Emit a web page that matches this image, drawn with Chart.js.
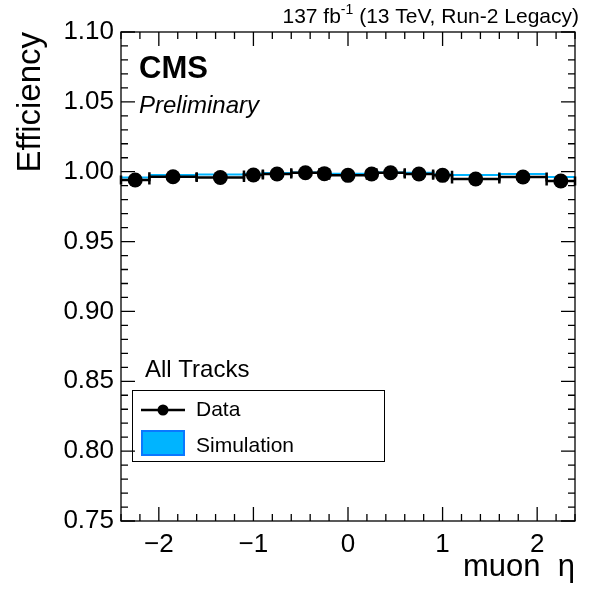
<!DOCTYPE html>
<html>
<head>
<meta charset="utf-8">
<script src="https://cdn.jsdelivr.net/npm/chart.js@4.4.1/dist/chart.umd.min.js"></script>
<style>
  html, body { margin: 0; padding: 0; background: #fff; }
  #wrap { width: 600px; height: 600px; }
</style>
</head>
<body>
<div id="wrap"><canvas id="effChart" width="600" height="600"></canvas></div>
<script>
// Muon eta binning and measured efficiencies
const binEdges   = [-2.4, -2.1, -1.6, -1.1, -0.9, -0.6, -0.3, -0.2, 0.2, 0.3, 0.6, 0.9, 1.1, 1.6, 2.1, 2.4];
const etaCenters = [-2.25, -1.85, -1.35, -1.0, -0.75, -0.45, -0.25, 0.0, 0.25, 0.45, 0.75, 1.0, 1.35, 1.85, 2.25];
const dataEff    = [0.9941, 0.9964, 0.9959, 0.9976, 0.9984, 0.9993, 0.9986, 0.9974, 0.9984, 0.9993, 0.9984, 0.9974, 0.9948, 0.9962, 0.9934];
const simEff     = [0.9959, 0.9976, 0.9980, 0.9985, 0.9990, 0.9995, 0.9990, 0.9985, 0.9990, 0.9995, 0.9992, 0.9982, 0.9976, 0.9984, 0.9962];

const xTickValues = [-2, -1, 0, 1, 2];
const yTickValues = [0.75, 0.80, 0.85, 0.90, 0.95, 1.00, 1.05, 1.10];

const FONT = "'Liberation Sans', Arial, Helvetica, sans-serif";
const SIM_FILL = '#00b4ff';
const SIM_LINE = '#0a78ff';

Chart.defaults.font.family = FONT;
Chart.defaults.color = '#000';

// Simulation drawn as a step line through the bin edges
const simSteps = binEdges.map((e, i) => ({ x: e, y: simEff[Math.min(i, simEff.length - 1)] }));
const dataPoints = etaCenters.map((x, i) => ({ x: x, y: dataEff[i] }));

// Horizontal bin-width bars with end caps for the data points
const errorBars = {
    id: 'errorBars',
    beforeDatasetDraw(chart, args) {
        if (args.index !== 0) return;
        const ctx = chart.ctx, xs = chart.scales.x, ys = chart.scales.y;
        ctx.save();
        ctx.strokeStyle = '#000';
        ctx.lineWidth = 2.5;
        for (let i = 0; i < dataEff.length; i++) {
            const x0 = xs.getPixelForValue(binEdges[i]);
            const x1 = xs.getPixelForValue(binEdges[i + 1]);
            const y = ys.getPixelForValue(dataEff[i]);
            ctx.beginPath();
            ctx.moveTo(x0, y); ctx.lineTo(x1, y);
            ctx.moveTo(x0, y - 4.5); ctx.lineTo(x0, y + 4.5);
            ctx.moveTo(x1, y - 4.5); ctx.lineTo(x1, y + 4.5);
            ctx.stroke();
        }
        ctx.restore();
    }
};

// ROOT-like frame with inward ticks on all four sides
const rootFrame = {
    id: 'rootFrame',
    afterDraw(chart) {
        const ctx = chart.ctx, a = chart.chartArea, xs = chart.scales.x, ys = chart.scales.y;
        ctx.save();
        ctx.strokeStyle = '#000';
        ctx.lineWidth = 1.3;
        ctx.strokeRect(a.left, a.top, a.right - a.left, a.bottom - a.top);
        ctx.beginPath();
        for (let k = -12; k <= 12; k++) {
            const v = k * 0.2;
            if (v < -2.4 - 1e-9 || v > 2.4 + 1e-9) continue;
            const px = xs.getPixelForValue(v);
            const len = (k % 5 === 0) ? 14 : 7;
            ctx.moveTo(px, a.bottom); ctx.lineTo(px, a.bottom - len);
            ctx.moveTo(px, a.top); ctx.lineTo(px, a.top + len);
        }
        for (let k = 75; k <= 110; k++) {
            const py = ys.getPixelForValue(k / 100);
            const len = (k % 5 === 0) ? 14 : 7;
            ctx.moveTo(a.left, py); ctx.lineTo(a.left + len, py);
            ctx.moveTo(a.right, py); ctx.lineTo(a.right - len, py);
        }
        ctx.stroke();
        ctx.restore();
    }
};

// CMS labels, luminosity and the legend box
const annotations = {
    id: 'annotations',
    afterDraw(chart) {
        const ctx = chart.ctx;
        ctx.save();
        ctx.fillStyle = '#000';
        ctx.textBaseline = 'alphabetic';

        ctx.font = 'bold 31px ' + FONT;
        ctx.textAlign = 'left';
        ctx.fillText('CMS', 139, 78);
        ctx.font = 'italic 24px ' + FONT;
        ctx.fillText('Preliminary', 139, 113);

        // lumi text, right aligned, with superscript
        const big = '21px ' + FONT, small = '14px ' + FONT;
        const t1 = '137 fb', sup = '-1', t2 = ' (13 TeV, Run-2 Legacy)';
        ctx.font = big; const w1 = ctx.measureText(t1).width, w3 = ctx.measureText(t2).width;
        ctx.font = small; const w2 = ctx.measureText(sup).width;
        let x = 579 - (w1 + w2 + w3);
        ctx.font = big; ctx.fillText(t1, x, 23); x += w1;
        ctx.font = small; ctx.fillText(sup, x, 14); x += w2;
        ctx.font = big; ctx.fillText(t2, x, 23);

        ctx.font = '24px ' + FONT;
        ctx.fillText('All Tracks', 145, 377);

        // legend box
        ctx.lineWidth = 1;
        ctx.strokeStyle = '#000';
        ctx.strokeRect(132.5, 390.5, 252, 71);
        ctx.beginPath();
        ctx.lineWidth = 2.5;
        ctx.moveTo(141, 410); ctx.lineTo(185, 410);
        ctx.stroke();
        ctx.beginPath();
        ctx.arc(163, 410, 5.5, 0, Math.PI * 2);
        ctx.fill();
        ctx.fillStyle = SIM_FILL;
        ctx.fillRect(141, 430, 44, 26);
        ctx.strokeStyle = SIM_LINE;
        ctx.lineWidth = 2;
        ctx.strokeRect(142, 431, 42, 24);
        ctx.fillStyle = '#000';
        ctx.font = '21px ' + FONT;
        ctx.fillText('Data', 196, 416);
        ctx.fillText('Simulation', 196, 452);
        ctx.restore();
    }
};

const effCtx = document.getElementById('effChart').getContext('2d');
const effChart = new Chart(effCtx, {
    type: 'scatter',
    data: {
        datasets: [{
            type: 'scatter',
            label: 'Data',
            data: dataPoints,
            pointRadius: 7.5,
            pointBackgroundColor: '#000',
            pointBorderColor: '#000',
            pointBorderWidth: 0
        }, {
            type: 'line',
            label: 'Simulation',
            data: simSteps,
            stepped: true,
            borderColor: SIM_FILL,
            borderWidth: 2,
            pointRadius: 0,
            fill: false
        }]
    },
    options: {
        responsive: false,
        animation: false,
        events: [],
        layout: { padding: { top: 32, right: 25, left: 0, bottom: 0 } },
        plugins: {
            legend: { display: false },
            tooltip: { enabled: false }
        },
        scales: {
            x: {
                type: 'linear',
                min: -2.4,
                max: 2.4,
                grid: { display: false, drawTicks: false },
                border: { display: false },
                afterBuildTicks: s => { s.ticks = xTickValues.map(v => ({ value: v })); },
                afterFit: s => { s.height = 79; },
                ticks: {
                    padding: 8,
                    font: { size: 26 },
                    maxRotation: 0,
                    callback: v => (v < 0 ? '\u2212' + Math.abs(v) : String(v))
                },
                title: {
                    display: true,
                    text: 'muon  \u03b7',
                    align: 'end',
                    font: { size: 31 },
                    padding: { top: 0, bottom: 14 }
                }
            },
            y: {
                type: 'linear',
                min: 0.75,
                max: 1.10,
                grid: { display: false, drawTicks: false },
                border: { display: false },
                afterBuildTicks: s => { s.ticks = yTickValues.map(v => ({ value: v })); },
                afterFit: s => { s.width = 121; },
                ticks: {
                    padding: 7,
                    font: { size: 26 },
                    callback: v => v.toFixed(2)
                },
                title: {
                    display: true,
                    text: 'Efficiency',
                    align: 'end',
                    font: { size: 33 },
                    padding: { top: 11, bottom: 0 }
                }
            }
        }
    },
    plugins: [errorBars, rootFrame, annotations]
});
</script>
</body>
</html>
